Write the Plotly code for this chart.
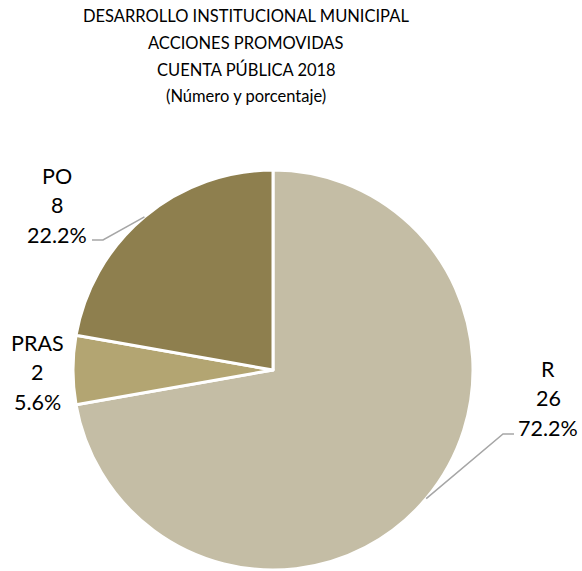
import math
import plotly.graph_objects as go

# ---- data ----
labels = ["R", "PRAS", "PO"]
values = [26, 2, 8]
colors = ["#C4BDA5", "#B3A572", "#8E7F4E"]
title_lines = ["DESARROLLO INSTITUCIONAL MUNICIPAL", "ACCIONES PROMOVIDAS",
               "CUENTA PÚBLICA 2018", "(Número y porcentaje)"]

W, H = 582, 571
CX, CY, R = 273, 370, 200  # pie centre / radius in px
FONT = "Lato, Carlito, sans-serif"

total = sum(values)
pcts = [v / total * 100 for v in values]

fig = go.Figure(go.Pie(
    labels=labels, values=values, sort=False, direction="clockwise", rotation=0,
    marker=dict(colors=colors, line=dict(color="white", width=3)),
    textinfo="none", hoverinfo="label+value+percent", showlegend=False,
    domain=dict(x=[(CX - R) / W, (CX + R) / W], y=[(H - CY - R) / H, (H - CY + R) / H]),
))

def px(x, y):
    return x / W, 1 - y / H

annotations = []
# title, one annotation per line
for i, line in enumerate(title_lines):
    X, Y = px(246, 16 + i * 26.7)
    annotations.append(dict(x=X, y=Y, xref="paper", yref="paper", xanchor="center",
                            yanchor="middle", text=line, showarrow=False,
                            font=dict(family=FONT, size=16.5, color="#000000")))

# label block centres (px) and leader line geometry (bend/end, px)
label_pos = {"R": (548, 398), "PRAS": (37, 372), "PO": (57, 205)}
leaders = {"R": [(503, 434), (514, 434)], "PO": [(103, 240), (92, 240)]}
LSP = 29.5

shapes = []
cum = 0
for lab, v, p in zip(labels, values, pcts):
    mid = (cum + v / 2) / total * 2 * math.pi
    cum += v
    ex, ey = CX + R * math.sin(mid), CY - R * math.cos(mid)
    lx, ly = label_pos[lab]
    for j, t in enumerate([lab, str(v), f"{p:.1f}%"]):
        X, Y = px(lx, ly + (j - 1) * LSP)
        annotations.append(dict(
            x=X, y=Y, xref="paper", yref="paper", xanchor="center", yanchor="middle",
            text=t, showarrow=False,
            font=dict(family=FONT, size=21.5, color="#000000"),
        ))
    if lab in leaders:
        pts = [(ex, ey)] + leaders[lab]
        path = "M " + " L ".join(f"{px(a, b)[0]},{px(a, b)[1]}" for a, b in pts)
        shapes.append(dict(type="path", xref="paper", yref="paper", path=path,
                           line=dict(color="#A6A6A6", width=1.5)))

fig.update_layout(
    width=W, height=H, margin=dict(l=0, r=0, t=0, b=0),
    paper_bgcolor="white", plot_bgcolor="white",
    annotations=annotations, shapes=shapes,
)

fig.write_html("out.html", config={"displayModeBar": False},
               post_script="document.body.style.margin='0';")
